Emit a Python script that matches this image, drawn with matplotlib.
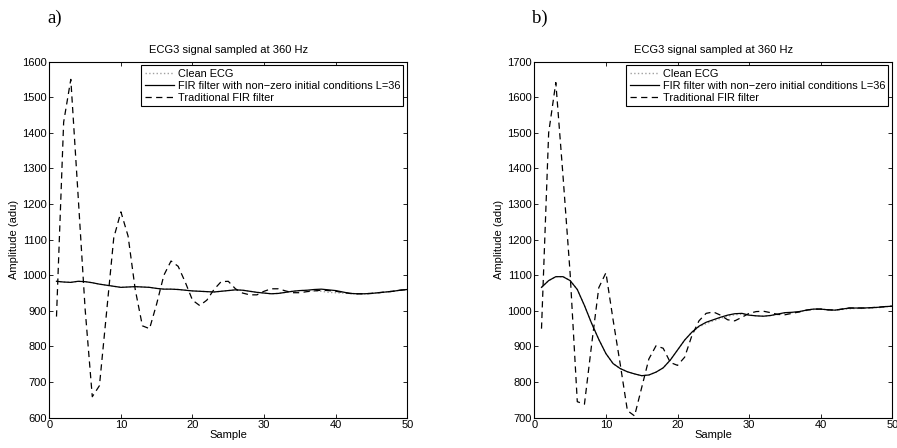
import numpy as np
import matplotlib.pyplot as plt

plt.rcParams['font.family'] = ['Liberation Sans', 'DejaVu Sans']

samples = np.arange(1, 51)

# panel a)
clean_a = [983, 981, 980, 983, 982, 979, 975, 972, 969, 966,
           967, 968, 967, 966, 963, 961, 961, 960, 958, 956,
           955, 954, 953, 955, 957, 959, 958, 955, 952, 950,
           948, 949, 952, 955, 957, 957, 956, 955, 952, 951,
           950, 949, 948, 948, 949, 951, 953, 955, 958, 960]
fir_a = [983, 981, 980, 983, 982, 979, 975, 972, 969, 966,
         967, 968, 967, 966, 963, 961, 961, 960, 958, 956,
         955, 954, 953, 955, 957, 959, 958, 955, 952, 950,
         948, 949, 952, 955, 957, 958, 960, 961, 959, 957,
         953, 949, 948, 948, 949, 951, 953, 955, 958, 960]
trad_a = [884, 1430, 1550, 1230, 905, 659, 690, 897, 1105, 1178,
          1110, 960, 858, 850, 920, 1000, 1040, 1025, 980, 930,
          915, 930, 960, 982, 983, 962, 950, 945, 945, 955,
          962, 962, 956, 951, 951, 954, 956, 958, 957, 955,
          952, 949, 948, 948, 949, 951, 953, 955, 958, 960]

# panel b)
clean_b = [1066, 1085, 1096, 1096, 1085, 1060, 1015, 965, 920, 880,
           852, 838, 829, 823, 818, 820, 828, 840, 862, 890,
           918, 940, 955, 964, 972, 979, 985, 989, 991, 988,
           986, 985, 987, 990, 993, 995, 997, 1001, 1004, 1005,
           1003, 1002, 1004, 1006, 1007, 1007, 1008, 1009, 1011, 1013]
fir_b = [1066, 1085, 1096, 1096, 1085, 1060, 1015, 965, 920, 880,
         852, 838, 829, 823, 818, 820, 828, 840, 862, 890,
         918, 940, 957, 968, 975, 982, 988, 992, 993, 988,
         986, 985, 987, 991, 995, 996, 998, 1002, 1005, 1005,
         1003, 1002, 1005, 1008, 1008, 1008, 1009, 1010, 1012, 1013]
trad_b = [950, 1500, 1641, 1380, 1105, 745, 738, 905, 1065, 1107,
          975, 850, 720, 705, 785, 865, 902, 895, 855, 847,
          870, 930, 972, 993, 997, 988, 975, 972, 982, 993,
          998, 999, 995, 990, 989, 993, 997, 1002, 1005, 1005,
          1003, 1002, 1005, 1008, 1008, 1008, 1009, 1010, 1012, 1013]

title = 'ECG3 signal sampled at 360 Hz'
labels = ['Clean ECG', 'FIR filter with non\u2212zero initial conditions L=36',
          'Traditional FIR filter']

fig = plt.figure(figsize=(8.97, 4.48), dpi=100)
ax_a = fig.add_axes([0.055, 0.0676, 0.399, 0.795])
ax_b = fig.add_axes([0.5957, 0.0676, 0.399, 0.795])

panels = [(ax_a, clean_a, fir_a, trad_a, (600, 1600), 'a)', 0.053),
          (ax_b, clean_b, fir_b, trad_b, (700, 1700), 'b)', 0.593)]

for ax, clean, fir, trad, ylim, tag, tx in panels:
    ax.plot(samples, clean, ':', color='#a0a0a0', lw=1.0, label=labels[0])
    ax.plot(samples, fir, '-', color='black', lw=0.9, label=labels[1])
    ax.plot(samples, trad, '--', color='black', lw=0.9, dashes=(5, 3.5), label=labels[2])
    ax.set_xlim(0, 50)
    ax.set_ylim(*ylim)
    ax.set_xticks(range(0, 51, 10))
    ax.set_yticks(range(ylim[0], ylim[1] + 1, 100))
    ax.tick_params(direction='in', top=True, right=True, labelsize=8,
                   length=3, width=0.6, pad=2)
    for sp in ax.spines.values():
        sp.set_linewidth(0.8)
    ax.set_title(title, fontsize=8, pad=6)
    ax.set_xlabel('Sample', fontsize=8, labelpad=0)
    ax.set_ylabel('Amplitude (adu)', fontsize=8, labelpad=2)
    leg = ax.legend(loc='upper right', fontsize=7.9, fancybox=False,
                    edgecolor='black', framealpha=1, handlelength=2.7,
                    handletextpad=0.3, borderpad=0.3, labelspacing=0.2,
                    borderaxespad=0.35)
    leg.get_frame().set_linewidth(0.8)
    fig.text(tx, 0.96, tag, fontsize=13.5, family='Liberation Serif', va='center')

plt.savefig('out.png', dpi=100)
